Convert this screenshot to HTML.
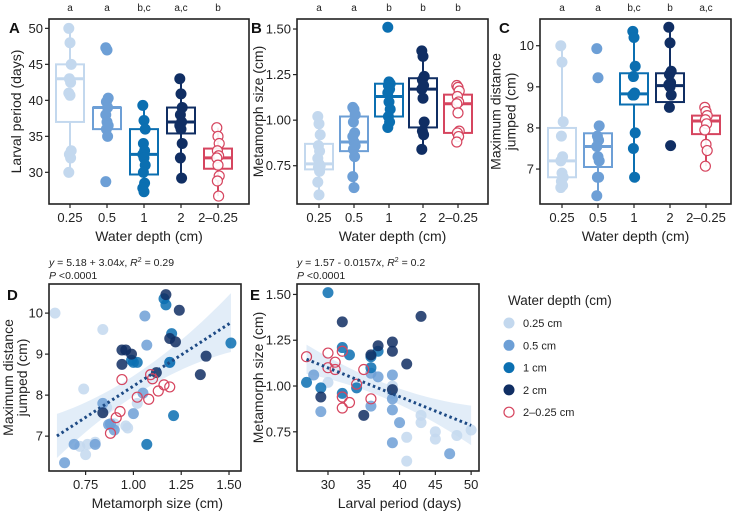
<!DOCTYPE html>
<html><head><meta charset="utf-8"><style>
html,body{margin:0;padding:0;background:#fff}
svg{display:block;font-family:"Liberation Sans",Arial,sans-serif}
</style></head><body>
<svg id="fig" width="733" height="512" viewBox="0 0 733 512" xmlns="http://www.w3.org/2000/svg"></svg>
<script>
const groups = ["0.25","0.5","1","2","2\u20130.25"];
const groupColors = ["#c3d8ee","#6d9fd6","#0b6fb1","#102e63","#d6455f"];
const lettersA = ["a","a","b,c","a,c","b"];
const lettersB = ["a","a","b","b","b"];
const lettersC = ["a","a","b,c","b","a,c"];
// box stats: [whiskerLow, q1, median, q3, whiskerHigh]
const boxA = [[30,37,43,45,50],[35,36,39,39,40.3],[27.3,29.7,32.5,36,39.3],[29.2,35.4,37,39,43],[26.7,30.5,32,33.3,36.2]];
const ptsA = [[50,48,45,43,42.5,41,40.7,33,32.5,32,30],[47.3,47,40.3,39.8,39,38,37,36.5,36,35,28.7],[39.3,37.2,36,34,33,32.5,32,31,30,28.5,27.8,27.3],[43,40.9,39,38,37,36.5,36,34,32,29.2],[36.2,35,34,33,32.3,32,31,29.5,28.8,26.7]];
const boxB = [[0.59,0.73,0.76,0.87,1.02],[0.63,0.83,0.88,1.02,1.07],[0.96,1.02,1.13,1.2,1.21],[0.84,0.96,1.17,1.23,1.38],[0.88,0.93,1.09,1.14,1.19]];
const ptsB = [[1.02,0.98,0.92,0.86,0.83,0.79,0.76,0.75,0.74,0.72,0.66,0.59],[1.07,1.06,1.03,0.99,0.93,0.91,0.88,0.86,0.84,0.8,0.69,0.63],[1.51,1.21,1.2,1.19,1.17,1.15,1.1,1.06,1.02,0.99,0.96],[1.38,1.35,1.24,1.22,1.19,1.17,1.12,0.99,0.94,0.92,0.84],[1.19,1.18,1.16,1.13,1.1,1.09,1.04,0.94,0.93,0.91,0.88]];
const boxC = [[6.55,6.8,7.2,8.0,10],[6.35,7.05,7.55,7.87,8.05],[6.8,8.57,8.83,9.33,10.35],[8.5,8.63,9.03,9.33,10.45],[7.07,7.85,8.17,8.3,8.5]];
const ptsC = [[10,9.6,8.15,7.8,7.3,7.2,6.9,6.8,6.7,6.6,6.55],[9.93,9.22,8.05,7.8,7.7,7.55,7.3,7.2,6.8,6.8,6.35],[10.35,10.2,9.5,9.25,8.85,8.8,8.8,7.88,7.5,6.8],[10.45,10.07,9.38,9.3,9.1,9.05,9.0,8.8,8.5,7.57],[8.5,8.4,8.3,8.2,8.1,7.95,7.6,7.45,7.07]];
// scatter D: metamorph size (x) vs distance (y), per group
const dX = [[0.59,0.84,0.74,0.97,0.72,0.75,0.76,0.8,0.86,0.96,1.02,0.9],[0.64,0.69,0.8,0.87,0.9,0.84,1.0,1.05,1.07,1.06,1.19,0.88],[1.51,1.21,1.07,1.16,1.17,1.2,1.0,1.02,0.99,1.19],[1.17,1.24,1.19,1.22,0.94,0.96,0.99,0.94,1.35,1.38,0.84,1.12],[0.94,1.09,1.1,1.16,1.19,1.13,1.02,1.08,0.93,0.91,0.88]];
const dY = [[10,9.6,8.15,7.2,6.75,6.55,6.8,6.85,7.7,7.25,7.8,7.3],[6.35,6.8,6.8,7.28,7.15,7.8,7.55,8.05,9.22,9.93,8.8,7.3],[9.27,7.5,6.8,10.35,10.2,9.5,8.8,8.8,8.85,8.8],[10.45,10.07,9.38,9.3,9.1,9.1,9.0,8.75,8.5,8.95,7.57,8.55],[8.38,8.5,8.4,8.25,8.2,8.1,7.95,7.9,7.6,7.45,7.07]];
const eX = [[30,41,41,43,43,45,45,48,50,39,39],[28,29,36,37,39,39,39,39,40,47,36],[27,30,29,32,33,32,34,36,36,37],[32,29,35,36,37,39,39,41,43,39],[27,30,30,31,31,32,32,32,33,35,36,34]];
const eY = [[1.02,0.72,0.59,0.84,0.8,0.75,0.71,0.73,0.76,0.96,1.0],[1.06,0.86,0.89,1.05,1.06,0.93,0.87,0.69,0.8,0.63,1.07],[1.02,1.51,0.99,1.21,1.17,0.96,0.99,1.1,1.16,1.19],[1.35,0.94,0.84,1.17,1.22,1.24,1.19,1.12,1.38,0.98],[1.16,1.18,1.1,1.13,1.09,1.19,0.94,0.88,0.91,1.09,0.93,1.01]];
const fitD = [5.18,3.04], fitE = [1.57,-0.0157];
const legendLabels = ["0.25 cm","0.5 cm","1 cm","2 cm","2\u20130.25 cm"];

const svg = document.getElementById('fig');
const NS = "http://www.w3.org/2000/svg";
function mk(tag, attrs, parent, text){
  const e = document.createElementNS(NS, tag);
  for (const k in attrs) e.setAttribute(k, attrs[k]);
  if (text !== undefined) e.textContent = text;
  (parent || svg).appendChild(e);
  return e;
}
function lin(d0,d1,r0,r1){return v => r0 + (v-d0)/(d1-d0)*(r1-r0);}

function frame(g, L, T, R, B){
  const f = mk('rect',{x:L,y:T,width:R-L,height:B-T,fill:'none',stroke:'#222','stroke-width':1.6},g);
  
  
}
function yAxis(g, ys, ticks, fmt, L, title, titleX, T, B, sp){
  ticks.forEach(t=>{
    mk('line',{x1:L-4,x2:L,y1:ys(t),y2:ys(t),stroke:'#222','stroke-width':1.2},g);
    const tx = mk('text',{x:L-6,y:ys(t)+4.5,'text-anchor':'end','font-size':13,fill:'#222'},g,fmt(t));
    
    
  });
  title.forEach((line,i)=>{
    const cy=(T+B)/2, off=(i-(title.length-1)/2)*(sp||15);
    const tt = mk('text',{x:0,y:0,transform:`translate(${titleX+off},${cy}) rotate(-90)`,'text-anchor':'middle','font-size':14,fill:'#222'},g,line);
    
    
  });
}
function xAxisNum(g, xs, ticks, fmt, B, title, titleY){
  ticks.forEach(t=>{
    mk('line',{x1:xs(t),x2:xs(t),y1:B,y2:B+4,stroke:'#222','stroke-width':1.2},g);
    const tx = mk('text',{x:xs(t),y:B+18,'text-anchor':'middle','font-size':13,fill:'#222'},g,fmt(t));
    
    
  });
  const xt = mk('text',{x:(xs(ticks[0])+xs(ticks[ticks.length-1]))/2,y:titleY,'text-anchor':'middle','font-size':14,fill:'#222'},g,title);
  
  
}
function panelLabel(g,x,y,t){
  const p = mk('text',{x:x,y:y,'font-size':15,'font-weight':'bold',fill:'#111'},g,t);
  
  
}

function boxPanel(name, L, R, T, B, cx, ymin, ymax, ticks, fmt, boxes, pts, letters, title, titleX, lab, labX){
  const g = mk('g',{});
  
  
  const ys = lin(ymin,ymax,B,T);
  frame(g,L,T,R,B);
  yAxis(g, ys, ticks, fmt, L, title, titleX, T, B, 15);
  groups.forEach((gr,i)=>{
    const x = cx[i], c = groupColors[i], s = boxes[i], hw=14;
    const bg = mk('g',{},g);
    
    
    mk('line',{x1:x,x2:x,y1:ys(s[0]),y2:ys(s[1]),stroke:c,'stroke-width':2},bg);
    mk('line',{x1:x,x2:x,y1:ys(s[3]),y2:ys(s[4]),stroke:c,'stroke-width':2},bg);
    mk('rect',{x:x-hw,y:ys(s[3]),width:2*hw,height:ys(s[1])-ys(s[3]),fill:'#fff',stroke:c,'stroke-width':2},bg);
    mk('line',{x1:x-hw,x2:x+hw,y1:ys(s[2]),y2:ys(s[2]),stroke:c,'stroke-width':3},bg);
    pts[i].forEach((v,j)=>{
      const jit = ((j*7)%5-2)*0.6;
      const open = i===4;
      const p = mk('circle',{cx:x+jit,cy:ys(v),r:open?5:5.5,fill:open?'#fff':c,stroke:c,'stroke-width':open?1.2:0,'fill-opacity':open?0.9:1},bg);
      
      
    });
    mk('line',{x1:x,x2:x,y1:B,y2:B+4,stroke:'#222','stroke-width':1.2},g);
    const tl = mk('text',{x:x,y:B+18,'text-anchor':'middle','font-size':13,fill:'#222'},g,gr);
    
    
    const lt = mk('text',{x:x,y:11,'text-anchor':'middle','font-size':10,fill:'#222'},g,letters[i]);
    
    
  });
  const xt = mk('text',{x:(L+R)/2,y:B+37,'text-anchor':'middle','font-size':14,fill:'#222'},g,'Water depth (cm)');
  
  
  panelLabel(g,labX,33,lab);
}

boxPanel('a',49,249,19,204,[70,107,144,181,218],25.6,51.3,[30,35,40,45,50],v=>v,boxA,ptsA,lettersA,['Larval period (days)'],21,'A',9);
boxPanel('b',297,488,19,204,[319,354,389,423,458],0.54,1.555,[0.75,1.0,1.25,1.5],v=>v.toFixed(2),boxB,ptsB,lettersB,['Metamorph size (cm)'],263,'B',251);
boxPanel('c',540,731,19,204,[562,598,634,670,706],6.15,10.65,[7,8,9,10],v=>v,boxC,ptsC,lettersC,['Maximum distance','jumped (cm)'],508,'C',499);

function scatterPanel(name, L,R,T,B, xd, yd, xt, yt, xf, yf, X, Y, fit, bandFn, xr, eq, ytitle, ytx, sp, xtitle, lab, labX){
  const g = mk('g',{});
  
  
  const xs = lin(xd[0],xd[1],L,R), ys = lin(yd[0],yd[1],B,T);
  const N=30; let up=[], dn=[];
  for(let k=0;k<=N;k++){const x=xr[0]+(xr[1]-xr[0])*k/N, y=fit[0]+fit[1]*x, h=bandFn(x); up.push(xs(x)+','+ys(y+h)); dn.unshift(xs(x)+','+ys(y-h));}
  const band = mk('polygon',{points:up.concat(dn).join(' '),fill:'#dbe8f6','fill-opacity':0.8},g);
  
  
  X.forEach((arr,i)=>{
    arr.forEach((v,j)=>{
      const open=i===4, c=groupColors[i];
      const p = mk('circle',{cx:xs(v),cy:ys(Y[i][j]),r:open?5:5.5,fill:open?'none':c,stroke:c,'stroke-width':open?1.2:0,'fill-opacity':0.85},g);
      
      
    });
  });
  const fl = mk('line',{x1:xs(xr[0]),y1:ys(fit[0]+fit[1]*xr[0]),x2:xs(xr[1]),y2:ys(fit[0]+fit[1]*xr[1]),stroke:'#1d4a85','stroke-width':3,'stroke-dasharray':'2.5 3'},g);
  
  
  frame(g,L,T,R,B);
  yAxis(g, ys, yt, yf, L, ytitle, ytx, T, B, sp);
  xAxisNum(g, xs, xt, xf, B, xtitle, B+37);
  const e1 = mk('text',{x:L,y:266,'font-size':10.5,fill:'#222'},g);
  e1.innerHTML = eq;
  
  
  const e2 = mk('text',{x:L,y:279,'font-size':10.5,fill:'#222'},g);
  e2.innerHTML = '<tspan font-style="italic">P</tspan> &lt;0.0001';
  
  
  panelLabel(g,labX,300,lab);
}
scatterPanel('d',49,241,284,471,[0.5585,1.5627],[6.15,10.71],[0.75,1.0,1.25,1.5],[7,8,9,10],v=>v.toFixed(2),v=>v,dX,dY,fitD,x=>0.25+1.8*(x-1.0)*(x-1.0),[0.6,1.51],
 '<tspan font-style="italic">y</tspan> = 5.18 + 3.04<tspan font-style="italic">x</tspan>, <tspan font-style="italic">R</tspan><tspan font-size="7" dy="-4">2</tspan><tspan dy="4"> = 0.29</tspan>',
 ['Maximum distance','jumped (cm)'],20,14,'Metamorph size (cm)','D',7);
scatterPanel('e',297,479,284,471,[25.67,51.1],[0.536,1.557],[30,35,40,45,50],[0.75,1.0,1.25,1.5],v=>v,v=>v.toFixed(2),eX,eY,fitE,x=>0.04+0.0004*(x-37)*(x-37),[27,50],
 '<tspan font-style="italic">y</tspan> = 1.57 - 0.0157<tspan font-style="italic">x</tspan>, <tspan font-style="italic">R</tspan><tspan font-size="7" dy="-4">2</tspan><tspan dy="4"> = 0.2</tspan>',
 ['Metamorph size (cm)'],263,15,'Larval period (days)','E',250);

const lg = mk('g',{});


const lt = mk('text',{x:508,y:305,'font-size':13.5,fill:'#222'},lg,'Water depth (cm)');


legendLabels.forEach((l,i)=>{
  const y = 323+i*22.3, open=i===4, c=groupColors[i];
  const eg = mk('g',{},lg);
  
  
  mk('circle',{cx:509,cy:y,r:open?5:5.5,fill:open?'#fff':c,stroke:c,'stroke-width':open?1.2:0},eg);
  mk('text',{x:523,y:y+4,'font-size':11,fill:'#222'},eg,l);
});
</script>
</body></html>
